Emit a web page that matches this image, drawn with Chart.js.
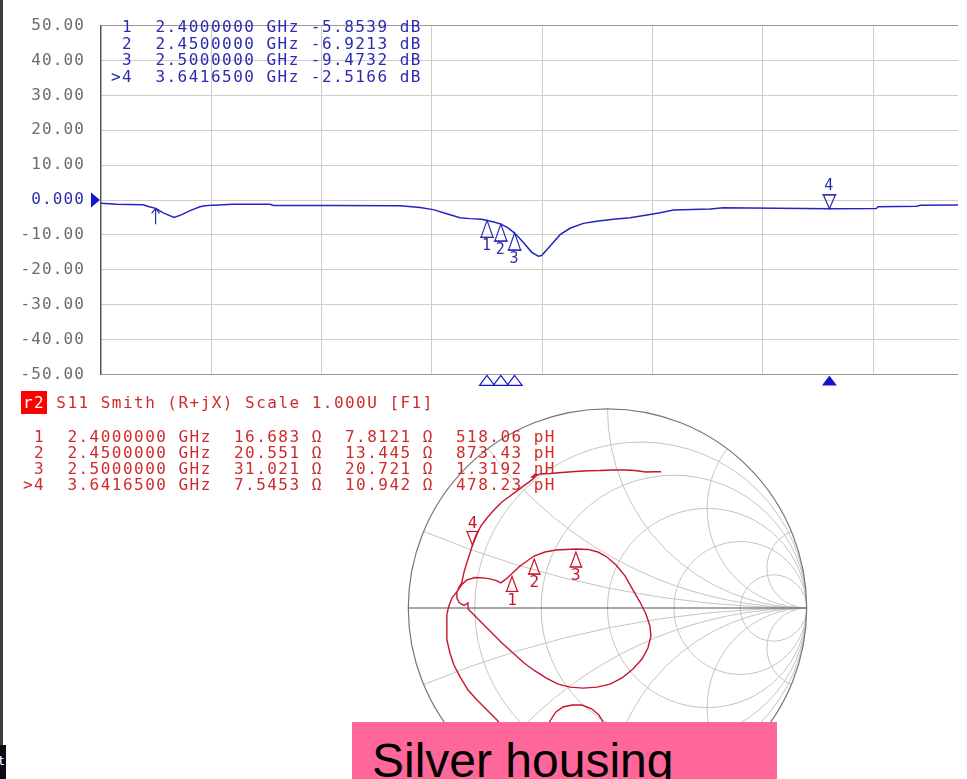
<!DOCTYPE html>
<html lang="en">
<head>
<meta charset="utf-8">
<title>S11 Log Mag and Smith chart</title>
<script src="https://cdn.jsdelivr.net/npm/chart.js@4.4.1/dist/chart.umd.min.js"></script>
<style>
html,body{margin:0;padding:0;background:#fff;}
body{position:relative;width:967px;height:779px;overflow:hidden;}
canvas{position:absolute;display:block;}
#logmag{left:0;top:0;}
#smith{left:400px;top:400px;}
.mono{position:absolute;font-family:"DejaVu Sans Mono",monospace;font-size:16px;letter-spacing:1.47px;white-space:pre;margin:0;}
#blueTable{left:111px;top:19px;line-height:16.5px;color:#2b2bb0;}
#smithHead{left:23px;top:395px;line-height:16.5px;color:#d22a2a;}
#smithHead .tag{background:#ff0000;color:#fff;box-shadow:0 0 0 2px #ff0000;}
#redTable{left:23px;top:429px;line-height:15.9px;color:#d22a2a;}
#frameL{position:absolute;left:0;top:0;width:3px;height:745px;background:#3c3c3c;}
#task{position:absolute;left:0;top:745px;width:6px;height:34px;background:#0b0b18;overflow:hidden;color:#fff;font:13px "DejaVu Sans",sans-serif;}
#task span{position:absolute;left:-1px;top:8px;}
#label{position:absolute;left:352px;top:722px;width:425px;height:57px;background:#ff6699;overflow:hidden;z-index:5;}
#label span{position:absolute;left:20px;top:15px;font-family:"Liberation Sans",Arial,sans-serif;font-size:48px;line-height:48px;color:#000;white-space:nowrap;}
</style>
</head>
<body>
<canvas id="logmag" width="967" height="400"></canvas>
<canvas id="smith" width="415" height="380"></canvas>
<div id="blueTable" class="mono"></div>
<div id="smithHead" class="mono"><span class="tag">r2</span> S11 Smith (R+jX) Scale 1.000U [F1]</div>
<div id="redTable" class="mono"></div>
<div id="frameL"></div>
<div id="task"><span>t</span></div>
<div id="label"><span>Silver housing</span></div>
<script>
// ---------- data ----------
const traceFreqGHz = [1.000, 1.057, 1.153, 1.172, 1.198, 1.226, 1.265, 1.293, 1.323, 1.359, 1.377, 1.407, 1.480, 1.613, 1.625, 1.831,
  2.085, 2.157, 2.205, 2.254, 2.302, 2.338, 2.380, 2.400, 2.425, 2.450, 2.475, 2.500, 2.532, 2.562, 2.586, 2.598, 2.629, 2.665,
  2.701, 2.749, 2.798, 2.858, 2.919, 2.991, 3.028, 3.076, 3.209, 3.257, 3.450, 3.64165, 3.812, 3.818, 3.959, 3.970, 4.109];
const traceDb = [-0.90, -1.20, -1.38, -1.84, -2.39, -3.68, -4.97, -4.20, -3.04, -1.93, -1.66, -1.47, -1.20, -1.20, -1.57, -1.57,
  -1.66, -2.12, -2.76, -3.95, -5.06, -5.34, -5.50, -5.8539, -6.30, -6.9213, -7.90, -9.4732, -12.2, -15.0, -16.1, -15.9, -13.2, -9.94,
  -8.10, -6.70, -6.08, -5.52, -5.06, -4.14, -3.68, -2.85, -2.58, -2.20, -2.35, -2.5166, -2.45, -1.90, -1.80, -1.50, -1.45];

const markerNames = ['1', '2', '3', '4'];
const markerFreqGHz = [2.4, 2.45, 2.5, 3.64165];
const markerDb = [-5.8539, -6.9213, -9.4732, -2.5166];
const markerR = [16.683, 20.551, 31.021, 7.5453];
const markerX = [7.8121, 13.445, 20.721, 10.942];
const markerL = ['518.06 pH', '873.43 pH', '1.3192 nH', '478.23 pH'];
const activeMarker = 3;

const arrowFreqGHz = [1.198];
const arrowDb = [-2.39];

const dbTicks = [50, 40, 30, 20, 10, 0, -10, -20, -30, -40, -50];
const freqGridGHz = [1.4, 1.8, 2.2, 2.6, 3.0, 3.4, 3.8];
const freqStartGHz = 1.0;
const freqVisibleEndGHz = 4.108;
const refLevelDb = 0;

const smithReA = [-0.309, -0.289, -0.259, -0.223, -0.178, -0.128, -0.078, -0.043, -0.023, -0.013];
const smithImA = [-0.622, -0.567, -0.522, -0.497, -0.487, -0.487, -0.507, -0.537, -0.572, -0.622];
const smithReB = [-0.510, -0.555, -0.605, -0.655, -0.700, -0.740, -0.771, -0.791, -0.806, -0.807, -0.806, -0.798, -0.781, -0.750,
  -0.730, -0.705, -0.665, -0.625, -0.590, -0.555, -0.535, -0.509, -0.479, -0.439, -0.369, -0.314, -0.259, -0.158, -0.098, -0.048,
  -0.003, 0.043, 0.088, 0.128, 0.163, 0.193, 0.213, 0.218, 0.203, 0.173, 0.128, 0.073, 0.013, -0.053, -0.123, -0.188, -0.248,
  -0.309, -0.364, -0.419, -0.474, -0.530, -0.580, -0.630, -0.675, -0.700, -0.700, -0.720, -0.743, -0.756, -0.756, -0.745, -0.732,
  -0.720, -0.705, -0.690, -0.677, -0.660, -0.635, -0.605, -0.570, -0.530, -0.489, -0.449, -0.409, -0.394, -0.374, -0.354, -0.364,
  -0.379, -0.369, -0.339, -0.289, -0.229, -0.163, -0.098, -0.038, 0.028, 0.088, 0.138, 0.193, 0.238, 0.269];
const smithImB = [-0.622, -0.562, -0.512, -0.462, -0.412, -0.346, -0.286, -0.226, -0.161, -0.095, -0.035, 0.005, 0.050, 0.090,
  0.120, 0.141, 0.153, 0.151, 0.146, 0.136, 0.126, 0.146, 0.173, 0.211, 0.261, 0.281, 0.291, 0.296, 0.294, 0.281,
  0.256, 0.216, 0.161, 0.090, 0.030, -0.030, -0.090, -0.141, -0.201, -0.256, -0.306, -0.351, -0.382, -0.397, -0.402, -0.397, -0.382,
  -0.351, -0.316, -0.276, -0.226, -0.176, -0.126, -0.075, -0.030, -0.005, 0.025, 0.013, 0.025, 0.050, 0.080, 0.105, 0.126,
  0.181, 0.231, 0.276, 0.319, 0.366, 0.412, 0.452, 0.492, 0.532, 0.562, 0.592, 0.622, 0.632, 0.648, 0.668, 0.671,
  0.658, 0.658, 0.673, 0.675, 0.680, 0.685, 0.689, 0.690, 0.693, 0.693, 0.690, 0.683, 0.684, 0.684];

const smithResistance = [0.2, 0.5, 1, 2, 5];
const smithReactance = [0.2, 0.5, 1, 2, 5];
const Z0 = 50;

// ---------- styles ----------
const BLUE_TRACE = '#2424c0';
const BLUE_TEXT = '#2b2bb0';
const BLUE_MARK = '#1515d0';
const RED_TRACE = '#c8142d';
const GRID = '#cccccc';
const MONO = '"DejaVu Sans Mono", monospace';

// ---------- readout tables ----------
document.getElementById('blueTable').textContent = markerFreqGHz.map((f, i) =>
  (i === activeMarker ? '>' : ' ') + markerNames[i] + '  ' + f.toFixed(7) + ' GHz ' + markerDb[i].toFixed(4) + ' dB').join('\n');
document.getElementById('redTable').textContent = markerFreqGHz.map((f, i) =>
  (i === activeMarker ? '>' : ' ') + markerNames[i] + '  ' + f.toFixed(7) + ' GHz  ' + markerR[i].toPrecision(5) + ' \u03a9  ' +
  markerX[i].toPrecision(5) + ' \u03a9  ' + markerL[i]).join('\n');

// ---------- log-mag chart ----------
function tri(ctx, x, y, hw, h, fill) {
  ctx.beginPath(); ctx.moveTo(x, y); ctx.lineTo(x - hw, y + h); ctx.lineTo(x + hw, y + h); ctx.closePath();
  if (fill) ctx.fill(); else ctx.stroke();
}

const spacing = {
  id: 'spacing',
  beforeDraw(chart) { chart.ctx.letterSpacing = '1.1px'; }
};

const logMarks = {
  id: 'logMarks',
  afterDatasetsDraw(chart) {
    const { ctx, chartArea } = chart;
    const xs = chart.scales.x, ys = chart.scales.y;
    ctx.save();
    ctx.lineWidth = 1.2;
    ctx.strokeStyle = BLUE_TEXT; ctx.fillStyle = BLUE_TEXT;
    ctx.font = '15px ' + MONO; ctx.textAlign = 'center'; ctx.textBaseline = 'middle';
    markerFreqGHz.forEach((f, i) => {
      const px = xs.getPixelForValue(f), py = ys.getPixelForValue(markerDb[i]);
      if (i === activeMarker) {
        tri(ctx, px, py, 6, -14, false);
        ctx.beginPath(); ctx.moveTo(px - 7, py - 14); ctx.lineTo(px + 7, py - 14); ctx.stroke();
        ctx.fillText(markerNames[i], px, py - 23);
      } else {
        tri(ctx, px, py, 6, 17, false);
        ctx.beginPath(); ctx.moveTo(px - 7, py + 17); ctx.lineTo(px + 7, py + 17); ctx.stroke();
        ctx.fillText(markerNames[i], px, py + 26);
      }
    });
    // stimulus indicators under the plot
    ctx.strokeStyle = BLUE_MARK; ctx.fillStyle = BLUE_MARK;
    markerFreqGHz.forEach((f, i) => {
      const px = xs.getPixelForValue(f);
      tri(ctx, px, chartArea.bottom + 1, 7.5, 10, i === activeMarker);
    });
    // reference level pointer
    const y0 = ys.getPixelForValue(refLevelDb);
    ctx.beginPath(); ctx.moveTo(chartArea.left - 1, y0); ctx.lineTo(chartArea.left - 10, y0 - 7.5);
    ctx.lineTo(chartArea.left - 10, y0 + 7.5); ctx.closePath(); ctx.fill();
    // small arrow
    ctx.strokeStyle = BLUE_TEXT; ctx.lineWidth = 1.2;
    arrowFreqGHz.forEach((f, i) => {
      const px = xs.getPixelForValue(f), py = ys.getPixelForValue(arrowDb[i]);
      ctx.beginPath(); ctx.moveTo(px, py); ctx.lineTo(px, py + 16);
      ctx.moveTo(px - 4, py + 5); ctx.lineTo(px, py); ctx.lineTo(px + 4, py + 5); ctx.stroke();
    });
    ctx.restore();
  }
};

new Chart(document.getElementById('logmag'), {
  type: 'line',
  data: {
    datasets: [{
      data: traceFreqGHz.map((f, i) => ({ x: f, y: traceDb[i] })),
      borderColor: BLUE_TRACE, borderWidth: 1.5, pointRadius: 0, tension: 0, fill: false
    }]
  },
  options: {
    responsive: false, animation: false, events: [],
    layout: { padding: { top: 18, right: 9, bottom: 20, left: 0 } },
    plugins: { legend: { display: false }, tooltip: { enabled: false } },
    scales: {
      x: {
        type: 'linear', min: freqStartGHz, max: freqVisibleEndGHz,
        afterBuildTicks(s) { s.ticks = freqGridGHz.map(v => ({ value: v })); },
        afterFit(s) { s.height = 0; },
        ticks: { display: false },
        grid: { color: GRID, drawTicks: false, lineWidth: 1 },
        border: { display: false }
      },
      y: {
        min: -50, max: 50,
        afterBuildTicks(s) { s.ticks = dbTicks.map(v => ({ value: v })); },
        afterFit(s) { s.width = 101; },
        ticks: {
          padding: 16,
          font: { family: 'DejaVu Sans Mono', size: 16 },
          color: c => (c.tick && c.tick.value === refLevelDb) ? BLUE_TEXT : '#6b6b6b',
          callback: v => v === 0 ? '0.000' : v.toFixed(2)
        },
        grid: {
          drawTicks: false,
          color: c => (c.tick && Math.abs(c.tick.value) === 50) ? '#9a9a9a' : GRID
        },
        border: { display: true, color: '#555555', width: 1.5 }
      }
    }
  },
  plugins: [spacing, logMarks]
});

// ---------- Smith chart ----------
const SMITH_CX = 207.5, SMITH_CY = 208, SMITH_RAD = 199.2, SMITH_W = 415, SMITH_H = 380;

const smithGrid = {
  id: 'smithGrid',
  beforeDatasetsDraw(chart) {
    const { ctx } = chart;
    const xs = chart.scales.x, ys = chart.scales.y;
    const cx = xs.getPixelForValue(0), cy = ys.getPixelForValue(0);
    const R = xs.getPixelForValue(1) - cx;
    ctx.save();
    ctx.beginPath(); ctx.arc(cx, cy, R, 0, Math.PI * 2); ctx.clip();
    ctx.strokeStyle = '#c4c4c4'; ctx.lineWidth = 1;
    smithResistance.forEach(r => {
      ctx.beginPath(); ctx.arc(cx + R * r / (1 + r), cy, R / (1 + r), 0, Math.PI * 2); ctx.stroke();
    });
    smithReactance.forEach(x => {
      [x, -x].forEach(xx => {
        ctx.beginPath(); ctx.arc(cx + R, cy - R / xx, R / Math.abs(xx), 0, Math.PI * 2); ctx.stroke();
      });
    });
    ctx.restore();
    ctx.save();
    ctx.strokeStyle = '#777777'; ctx.lineWidth = 1.2;
    ctx.beginPath(); ctx.arc(cx, cy, R, 0, Math.PI * 2); ctx.stroke();
    ctx.strokeStyle = '#555555'; ctx.lineWidth = 1.2;
    ctx.beginPath(); ctx.moveTo(cx - R, cy); ctx.lineTo(cx + R, cy); ctx.stroke();
    ctx.restore();
  }
};

const smithMarks = {
  id: 'smithMarks',
  afterDatasetsDraw(chart) {
    const { ctx } = chart;
    const xs = chart.scales.x, ys = chart.scales.y;
    ctx.save();
    ctx.strokeStyle = RED_TRACE; ctx.fillStyle = RED_TRACE; ctx.lineWidth = 1.2;
    ctx.font = '16px ' + MONO; ctx.textAlign = 'center'; ctx.textBaseline = 'middle';
    markerR.forEach((r, i) => {
      const zr = r / Z0, zi = markerX[i] / Z0;
      const den = (zr + 1) * (zr + 1) + zi * zi;
      const gr = ((zr - 1) * (zr + 1) + zi * zi) / den;
      const gi = (zi * (zr + 1) - (zr - 1) * zi) / den;
      const px = xs.getPixelForValue(gr), py = ys.getPixelForValue(gi);
      if (i === activeMarker) {
        tri(ctx, px, py + 1, 5.5, -14, false);
        ctx.beginPath(); ctx.moveTo(px - 6.5, py - 13); ctx.lineTo(px + 6.5, py - 13); ctx.stroke();
        ctx.fillText(markerNames[i], px, py - 21);
      } else {
        tri(ctx, px, py + 3, 5.5, 15, false);
        ctx.beginPath(); ctx.moveTo(px - 6.5, py + 18); ctx.lineTo(px + 6.5, py + 18); ctx.stroke();
        ctx.fillText(markerNames[i], px, py + 27);
      }
    });
    ctx.restore();
  }
};

new Chart(document.getElementById('smith'), {
  type: 'scatter',
  data: {
    datasets: [
      { data: smithReA.map((v, i) => ({ x: v, y: smithImA[i] })), showLine: true, borderColor: RED_TRACE, borderWidth: 1.4, pointRadius: 0, fill: false },
      { data: smithReB.map((v, i) => ({ x: v, y: smithImB[i] })), showLine: true, borderColor: RED_TRACE, borderWidth: 1.4, pointRadius: 0, fill: false }
    ]
  },
  options: {
    responsive: false, animation: false, events: [],
    layout: { padding: 0 },
    plugins: { legend: { display: false }, tooltip: { enabled: false } },
    scales: {
      x: { type: 'linear', display: false, min: -SMITH_CX / SMITH_RAD, max: (SMITH_W - SMITH_CX) / SMITH_RAD },
      y: { type: 'linear', display: false, min: -(SMITH_H - SMITH_CY) / SMITH_RAD, max: SMITH_CY / SMITH_RAD }
    }
  },
  plugins: [smithGrid, smithMarks]
});
</script>
</body>
</html>
